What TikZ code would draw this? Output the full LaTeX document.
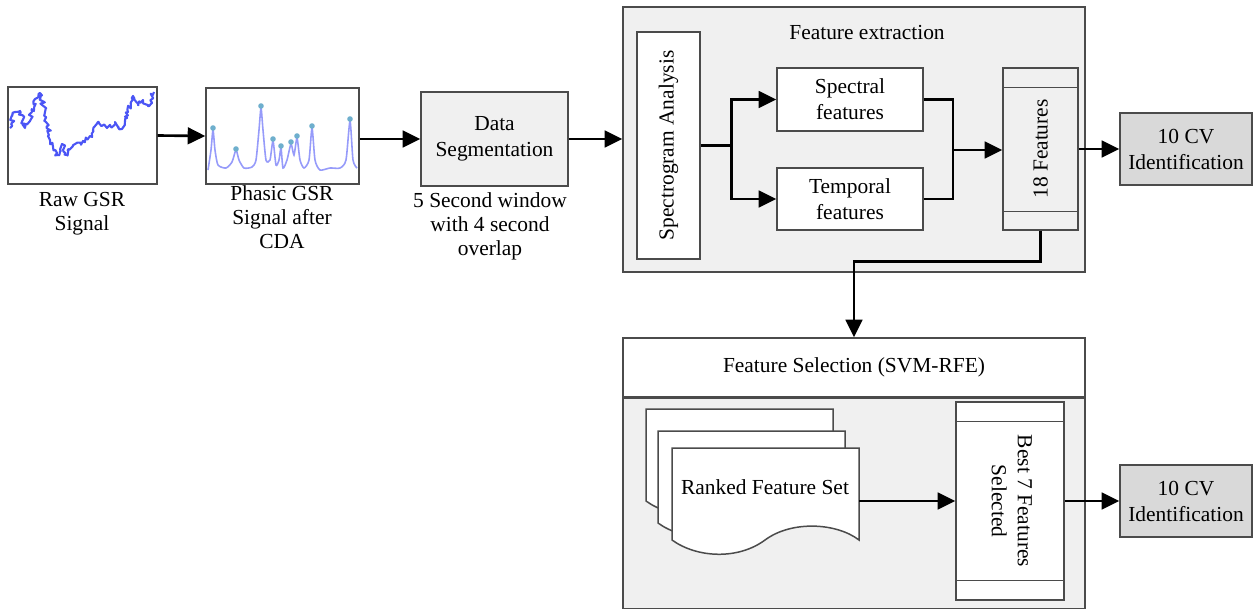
\documentclass[tikz,border=0pt]{standalone}
\usepackage{fontspec}
\setmainfont{Liberation Serif}
\usepackage{tikz}
\usetikzlibrary{positioning,calc,arrows.meta,decorations.pathmorphing}

\definecolor{rawblue}{RGB}{75,85,245}
\definecolor{phasblue}{RGB}{150,155,250}
\definecolor{peakcol}{RGB}{110,175,205}
\definecolor{lightbg}{RGB}{240,240,240}
\definecolor{cvgray}{RGB}{217,217,217}
\definecolor{edge}{RGB}{75,75,75}

\begin{document}
\begin{tikzpicture}[
    x=0.02cm, y=-0.02cm,
    font=\fontsize{12.2}{13.6}\selectfont,
    box/.style={draw=edge, line width=0.85pt, align=center, fill=white, inner sep=2pt,
        font=\fontsize{12.2}{14.8}\selectfont},
    grpbox/.style={box, fill=lightbg},
    cvbox/.style={box, fill=cvgray, minimum width=2.64cm, minimum height=1.44cm},
    arr/.style={-{Triangle[length=10pt,width=9.5pt]}, line width=1.5pt},
    wire/.style={line width=1.5pt},
    sepline/.style={draw=edge, line width=0.85pt},
    docshape/.style={draw=edge, line width=0.85pt, fill=white}
]
\useasboundingbox (0,0) rectangle (1253,609);
\pgfmathsetseed{42}

% Left: raw and phasic GSR signals
\node (raw) [box, minimum width=2.98cm, minimum height=1.94cm] at (82.5,135.5) {};
\draw[rawblue, line width=1.2pt, line join=round, decorate,
      decoration={random steps, segment length=1.2pt, amplitude=1.4pt}]
    (10,128) -- (15,112) -- (20,111) -- (25,128) -- (30,121) -- (35,99) -- (40,93)
    -- (45,112) -- (50,140) -- (57,155) -- (62,144) -- (67,155) -- (73,146) -- (83,141)
    -- (90,136) -- (98,122) -- (107,128) -- (115,122) -- (122,129) -- (128,112) -- (133,96)
    -- (138,105) -- (143,100) -- (148,106) -- (154,92);
\node (rawlbl) [align=center] at (82,214) {Raw GSR\\Signal};

\node (phasic) [box, minimum width=3.06cm, minimum height=1.92cm] at (282.5,136) {};
\draw[phasblue, line width=0.9pt]
    plot[smooth, tension=0.4] coordinates {(208,170) (211,150) (213,130) (215,150) (218,165)
      (226,168) (232,162) (236,150) (239,160) (244,168) (252,167) (256,160) (259,130)
      (261,108) (263,130) (266,160) (270,160) (273,141) (276,165) (279,160) (281,148)
      (283,168) (287,160) (291,144) (294,155) (297,138) (300,160) (304,168) (309,160)
      (312,128) (315,160) (320,170) (330,168) (340,168) (346,160) (350,121) (353,160) (357,168)};
\foreach \px/\py in {213/128, 236/149, 261/106, 273/139, 281/146, 291/142, 297/136, 312/126, 350/119}
    \fill[peakcol] (\px,\py) circle (2.8);
\node (phaslbl) [align=center] at (282,217) {Phasic GSR\\Signal after\\CDA};

\draw[arr] (raw.east) -- (phasic.west);

% Data segmentation
\node (dataseg) [grpbox, minimum width=2.94cm, minimum height=1.88cm] at (494.5,139) {Data\\Segmentation};
\node (seglbl) [align=center] at (490,226) {5 Second window\\with 4 second\\overlap};

\draw[arr] (phasic.east |- dataseg.west) -- (dataseg.west);

% Feature extraction group
\node (fe) [grpbox, minimum width=9.24cm, minimum height=5.3cm] at (854,139.5) {};
\node (fetitle) at (867,33) {Feature extraction};

\draw[arr] (dataseg.east) -- (fe.west |- dataseg.east);

\node (spectro) [box, minimum width=1.26cm, minimum height=4.54cm] at (668.5,145.5)
    {\rotatebox{90}{Spectrogram Analysis}};
\node (spectral) [box, minimum width=2.92cm, minimum height=1.26cm] at (850,99.5) {Spectral\\features};
\node (temporal) [box, minimum width=2.92cm, minimum height=1.24cm] at (850,199) {Temporal\\features};
\node (feat18) [grpbox, minimum width=1.5cm, minimum height=3.24cm] at (1040.5,149)
    {\rotatebox{90}{18 Features}};
\draw[sepline] ($(feat18.north west)+(0,20)$) -- ($(feat18.north east)+(0,20)$);
\draw[sepline] ($(feat18.south west)+(0,-19)$) -- ($(feat18.south east)+(0,-19)$);

% Split and merge
\draw[wire] (spectro.east) -- ++(31,0) coordinate (split);
\draw[arr] (split) |- (spectral.west);
\draw[arr] (split) |- (temporal.west);
\coordinate (merge) at (953,150);
\draw[wire] (spectral.east) -| (merge);
\draw[wire] (temporal.east) -| (merge);
\draw[arr] (merge) -- (feat18.west |- merge);

\node (cvtop) [cvbox] at (1186,149) {10 CV\\Identification};
\draw[arr] (feat18.east) -- (cvtop.west |- feat18.east);

% Feature selection group
\node (fshead) [box, minimum width=9.24cm, minimum height=1.18cm] at (854,367.5) {Feature Selection (SVM-RFE)};
\node (fsbody) [grpbox, minimum width=9.24cm, minimum height=4.2cm, below=0pt of fshead] {};

\draw[arr] (feat18.south) -- ++(0,31) -| (fshead.north);

% Ranked feature documents
\foreach \dx/\dy in {646/409, 658/431, 672/448}
    \draw[docshape] (\dx,\dy) -- ++(187,0) -- ++(0,92)
        .. controls +(-22,-17) and +(27,-20) .. ++(-94,0)
        .. controls +(-27,20) and +(25,18) .. ++(-93,0) -- cycle;
\node (rankdoc) [minimum width=3.74cm, minimum height=1.84cm, inner sep=0pt] at (765.5,501) {};
\node (ranktxt) at (765,487) {Ranked Feature Set};

\node (best7) [box, minimum width=2.16cm, minimum height=3.96cm] at (1010,501)
    {\rotatebox{-90}{\begin{tabular}{@{}c@{}}Best 7 Features\\Selected\end{tabular}}};
\draw[sepline] ($(best7.north west)+(0,20)$) -- ($(best7.north east)+(0,20)$);
\draw[sepline] ($(best7.south west)+(0,-20)$) -- ($(best7.south east)+(0,-20)$);

\draw[arr] (rankdoc.east) -- (best7.west);

\node (cvbot) [cvbox] at (1186,501) {10 CV\\Identification};
\draw[arr] (best7.east) -- (cvbot.west);

\end{tikzpicture}
\end{document}
